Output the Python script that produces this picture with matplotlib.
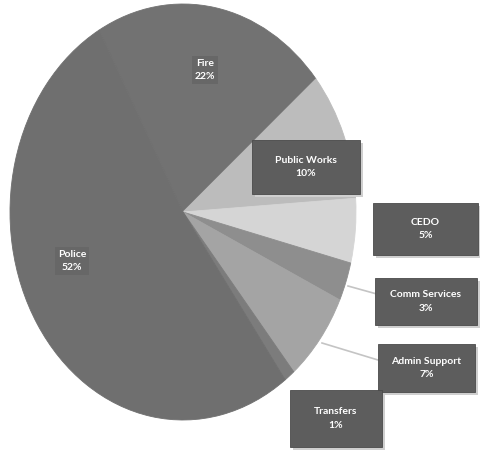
import matplotlib
matplotlib.use("Agg")
import matplotlib.pyplot as plt
from matplotlib.patches import Rectangle

# slice data, clockwise from the top
departments = ["Fire", "Public Works", "CEDO", "Comm Services",
               "Admin Support", "Transfers", "Police"]
shares = [22, 10, 5, 3, 7, 1, 52]
colors = ["#727272", "#bcbcbc", "#d5d5d5", "#8e8e8e",
          "#a4a4a4", "#7c7c7c", "#6f6f6f"]

W, H = 480, 453
cx, cy = 183, 212      # pie centre in pixels
rx, ry = 173, 208      # horizontal / vertical radius in pixels


def px(x, y):
    return (x - cx) / rx, (cy - y) / ry


fig = plt.figure(figsize=(W / 100, H / 100), dpi=100)
ax = fig.add_axes([0, 0, 1, 1])
wedges, _ = ax.pie(shares, colors=colors, startangle=119, counterclock=False)
for w, c in zip(wedges, colors):
    w.set_edgecolor(c)
    w.set_linewidth(0.6)
ax.set_aspect("auto")
ax.set_xlim(-cx / rx, (W - cx) / rx)
ax.set_ylim(-(H - cy) / ry, cy / ry)
ax.axis("off")

font = dict(family=["Lato", "DejaVu Sans"], fontsize=7.5, color="white",
            fontweight="bold", ha="center", va="center", zorder=6)

# labels inside the big slices
for name, val, (tx, ty) in [("Fire", 22, (205, 70)), ("Police", 52, (72, 261))]:
    x, y = px(tx, ty)
    ax.text(x, y, f"{name}\n{val}%", linespacing=1.6,
            bbox=dict(boxstyle="square,pad=0.25", fc="#676767", ec="none"),
            **font)

# boxed callouts: box (left, top, right, bottom) in pixels, leader start
boxes = {
    "Public Works": ((252, 140, 360, 194), None),
    "CEDO": ((373, 203, 478, 255), None),
    "Comm Services": ((375, 278, 477, 325), (348, 286)),
    "Admin Support": ((378, 344, 475, 392), (322, 343)),
    "Transfers": ((290, 390, 382, 447), None),
}
for name, val in zip(departments, shares):
    if name not in boxes:
        continue
    (l, t, r, b), lead = boxes[name]
    x0, y1 = px(l, t)
    x1, y0 = px(r, b)
    sx, sy = 3 / rx, 3 / ry
    ax.add_patch(Rectangle((x0 + sx, y0 - sy), x1 - x0, y1 - y0,
                           fc="#cfcfcf", ec="none", zorder=4))
    ax.add_patch(Rectangle((x0, y0), x1 - x0, y1 - y0,
                           fc="#5d5d5d", ec="#4a4a4a", lw=0.6, zorder=5))
    if lead is not None:
        lx, ly = px(*lead)
        ex, ey = px(l, (t + b) / 2 - 8)
        ax.plot([lx, ex], [ly, ey], color="#c4c4c4", lw=1.2, zorder=3)
    ax.text((x0 + x1) / 2, (y0 + y1) / 2, f"{name}\n{val}%",
            linespacing=1.7, **font)

fig.savefig("out.png", dpi=100, facecolor="white")
